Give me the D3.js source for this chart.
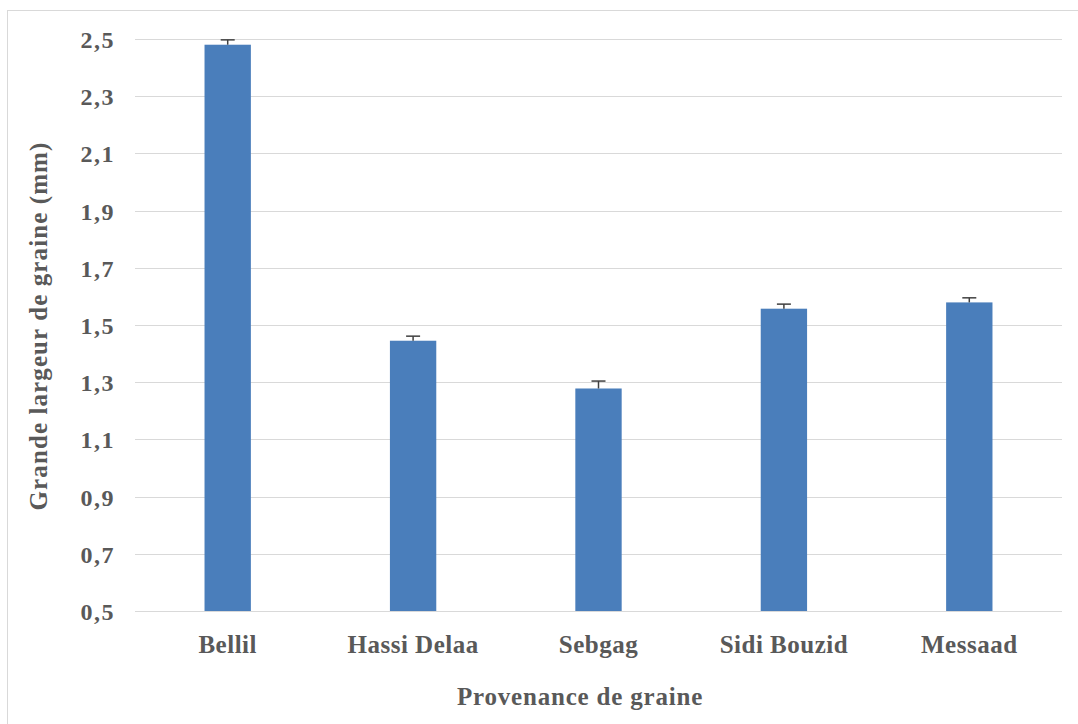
<!DOCTYPE html>
<html><head><meta charset="utf-8">
<script src="https://cdn.jsdelivr.net/npm/d3@7"></script>
<style>body{margin:0;background:#fff}svg{display:block}</style>
</head><body>
<script>
const categories = ["Bellil", "Hassi Delaa", "Sebgag", "Sidi Bouzid", "Messaad"];
const values = [2.48, 1.445, 1.278, 1.557, 1.579];
const errors = [0.017, 0.016, 0.026, 0.016, 0.016];
const yTicks = [0.5, 0.7, 0.9, 1.1, 1.3, 1.5, 1.7, 1.9, 2.1, 2.3, 2.5];
const xTitle = "Provenance de graine";
const yTitle = "Grande largeur de graine (mm)";

const W = 1078, H = 724;
const m = {left: 135, right: 1062, top: 39, bottom: 611};
const svg = d3.select("body").append("svg").attr("width", W).attr("height", H);
const font = "'Liberation Serif', 'Times New Roman', serif";
const textColor = "#595959";

svg.append("rect").attr("x", 7.5).attr("y", 10.5).attr("width", 1200).attr("height", 800)
  .attr("fill", "#fff").attr("stroke", "#d9d9d9").attr("stroke-width", 1);

const x = d3.scaleBand().domain(categories).range([m.left, m.right]).paddingInner(0.75).paddingOuter(0.375);
const y = d3.scaleLinear().domain([0.5, 2.5]).range([m.bottom, m.top]);
const fmt = d => d3.format(".1f")(d).replace(".", ",");

// gridlines
svg.append("g").selectAll("line").data(yTicks).join("line")
  .attr("x1", m.left).attr("x2", m.right)
  .attr("y1", d => Math.round(y(d)) + 0.5).attr("y2", d => Math.round(y(d)) + 0.5)
  .attr("stroke", "#d9d9d9").attr("stroke-width", 1);

// y axis labels
const yAxis = d3.axisLeft(y).tickValues(yTicks).tickFormat(fmt).tickSize(0).tickPadding(20);
const gy = svg.append("g").attr("transform", `translate(${m.left},0)`).call(yAxis);
gy.select(".domain").remove();
gy.selectAll("text").attr("font-family", font).attr("font-weight", "bold").attr("font-size", 24)
  .attr("letter-spacing", 1.5).attr("fill", textColor).attr("dy", "0.35em");

// bars
svg.append("g").selectAll("rect").data(categories).join("rect")
  .attr("x", d => x(d)).attr("width", x.bandwidth())
  .attr("y", (d, i) => y(values[i])).attr("height", (d, i) => y(0.5) - y(values[i]))
  .attr("fill", "#4a7ebb");

// error bars
const eg = svg.append("g").attr("stroke", "#404040").attr("stroke-width", 1.5);
categories.forEach((c, i) => {
  const cx = x(c) + x.bandwidth() / 2;
  eg.append("line").attr("x1", cx).attr("x2", cx).attr("y1", y(values[i])).attr("y2", y(values[i] + errors[i]));
  eg.append("line").attr("x1", cx - 7).attr("x2", cx + 7).attr("y1", y(values[i] + errors[i])).attr("y2", y(values[i] + errors[i]));
});

// x axis labels
const xAxis = d3.axisBottom(x).tickSize(0).tickPadding(24);
const gx = svg.append("g").attr("transform", `translate(0,${m.bottom})`).call(xAxis);
gx.select(".domain").remove();
gx.selectAll("text").attr("font-family", font).attr("font-weight", "bold").attr("font-size", 25)
  .attr("letter-spacing", 0.5).attr("fill", textColor);

// titles
svg.append("text").attr("x", 580).attr("y", 705).attr("text-anchor", "middle")
  .attr("font-family", font).attr("font-weight", "bold").attr("font-size", 25).attr("letter-spacing", 0.8)
  .attr("fill", textColor).text(xTitle);
svg.append("text").attr("transform", `translate(47,326) rotate(-90)`).attr("text-anchor", "middle")
  .attr("font-family", font).attr("font-weight", "bold").attr("font-size", 25).attr("letter-spacing", 1.1)
  .attr("fill", textColor).text(yTitle);
</script>
</body></html>
